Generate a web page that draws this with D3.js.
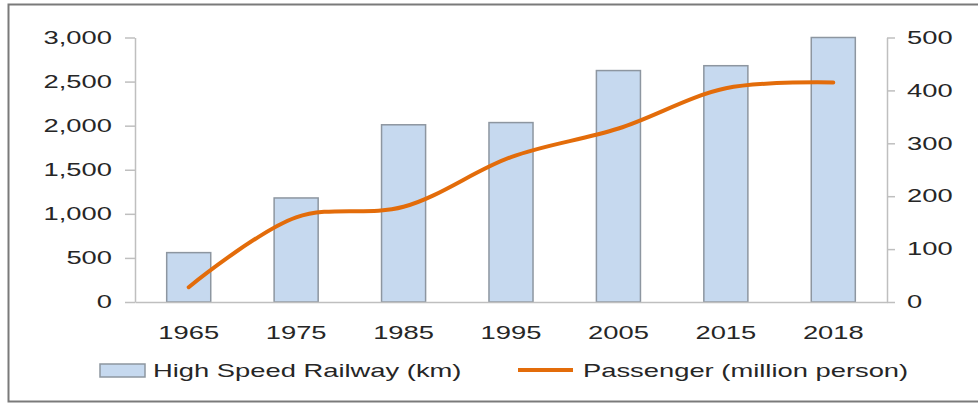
<!DOCTYPE html>
<html>
<head>
<meta charset="utf-8">
<script src="https://cdn.jsdelivr.net/npm/d3@7"></script>
<style>
  html, body { margin: 0; padding: 0; background: #fff; }
  svg { display: block; }
  text { font-family: "Liberation Sans", Arial, sans-serif; fill: #262626; }
</style>
</head>
<body>
<svg id="chart" width="978" height="403"></svg>
<script>
// ---- data ----
const years = ["1965", "1975", "1985", "1995", "2005", "2015", "2018"];
const railwayKm = [560, 1180, 2010, 2035, 2625, 2680, 3000];
const passengers = [28, 160, 180, 274, 328, 404, 415];
const leftTicks = [0, 500, 1000, 1500, 2000, 2500, 3000];
const rightTicks = [0, 100, 200, 300, 400, 500];
const seriesNames = ["High Speed Railway (km)", "Passenger (million person)"];

// ---- layout ----
const W = 978, H = 403;
const plotLeft = 135, plotRight = 887, plotTop = 37.5, plotBottom = 302;
const FS = 18, SX = 1.52; // font size and horizontal stretch
const axisColor = "#bfbfbf";
const barFill = "#c6d9ef";
const barStroke = "#8d96a0";
const lineColor = "#e36c0a";

const svg = d3.select("#chart");

// frame
svg.append("rect")
  .attr("x", 8.5).attr("y", 4.5)
  .attr("width", W + 10).attr("height", 397)
  .attr("fill", "none").attr("stroke", "#7a7a7a").attr("stroke-width", 2);

const x = d3.scaleBand().domain(years).range([plotLeft, plotRight])
  .paddingInner(0.59).paddingOuter(0.295);
const yL = d3.scaleLinear().domain([0, 3000]).range([plotBottom, plotTop]);
const yR = d3.scaleLinear().domain([0, 500]).range([plotBottom, plotTop]);

function stretchText(sel) {
  sel.each(function () {
    const t = d3.select(this);
    const tx = +t.attr("x") || 0;
    const ty = +t.attr("y") || 0;
    t.attr("x", 0).attr("y", 0)
     .attr("transform", `translate(${tx},${ty}) scale(${SX},1)`);
  });
}

// left axis
const gL = svg.append("g").attr("transform", `translate(${plotLeft},0)`)
  .call(d3.axisLeft(yL).tickValues(leftTicks).tickFormat(d3.format(",")).tickSize(10).tickSizeOuter(0).tickPadding(13));
gL.select(".domain").attr("stroke", axisColor).attr("stroke-width", 1.5);
gL.selectAll(".tick line").attr("stroke", axisColor).attr("stroke-width", 1.5);
gL.selectAll("text").attr("font-size", FS).attr("fill", "#262626").attr("font-family", "Liberation Sans, Arial, sans-serif").call(stretchText);

// right axis
const gR = svg.append("g").attr("transform", `translate(${plotRight},0)`)
  .call(d3.axisRight(yR).tickValues(rightTicks).tickSize(8).tickSizeOuter(0).tickPadding(12));
gR.select(".domain").attr("stroke", axisColor).attr("stroke-width", 1.5);
gR.selectAll(".tick line").attr("stroke", axisColor).attr("stroke-width", 1.5);
gR.selectAll("text").attr("font-size", FS).attr("fill", "#262626").attr("font-family", "Liberation Sans, Arial, sans-serif").call(stretchText);

// bars
svg.append("g").selectAll("rect")
  .data(years.map((y, i) => ({ year: y, v: railwayKm[i] })))
  .join("rect")
  .attr("x", d => x(d.year))
  .attr("y", d => yL(d.v))
  .attr("width", x.bandwidth())
  .attr("height", d => plotBottom - yL(d.v))
  .attr("fill", barFill)
  .attr("stroke", barStroke)
  .attr("stroke-width", 1.5);

// bottom axis
const gB = svg.append("g").attr("transform", `translate(0,${plotBottom})`)
  .call(d3.axisBottom(x).tickSize(0).tickSizeOuter(0).tickPadding(24));
gB.select(".domain").attr("stroke", axisColor).attr("stroke-width", 1.5);
gB.selectAll("text").attr("font-size", FS).attr("fill", "#262626").attr("font-family", "Liberation Sans, Arial, sans-serif").call(stretchText);

// line
const lineGen = d3.line()
  .x((d, i) => x(years[i]) + x.bandwidth() / 2)
  .y(d => yR(d))
  .curve(d3.curveCatmullRom.alpha(0.5));
svg.append("path")
  .datum(passengers)
  .attr("d", lineGen)
  .attr("fill", "none")
  .attr("stroke", lineColor)
  .attr("stroke-width", 4)
  .attr("stroke-linecap", "round")
  .attr("stroke-linejoin", "round");

// legend
const lg = svg.append("g");
lg.append("rect").attr("x", 100).attr("y", 364).attr("width", 45).attr("height", 13)
  .attr("fill", barFill).attr("stroke", barStroke).attr("stroke-width", 1.5);
lg.append("text").attr("x", 153).attr("y", 377).attr("font-size", FS).text(seriesNames[0]).call(stretchText);
lg.append("line").attr("x1", 518).attr("x2", 573).attr("y1", 370).attr("y2", 370)
  .attr("stroke", lineColor).attr("stroke-width", 4);
lg.append("text").attr("x", 583).attr("y", 377).attr("font-size", FS).text(seriesNames[1]).call(stretchText);
</script>
</body>
</html>
